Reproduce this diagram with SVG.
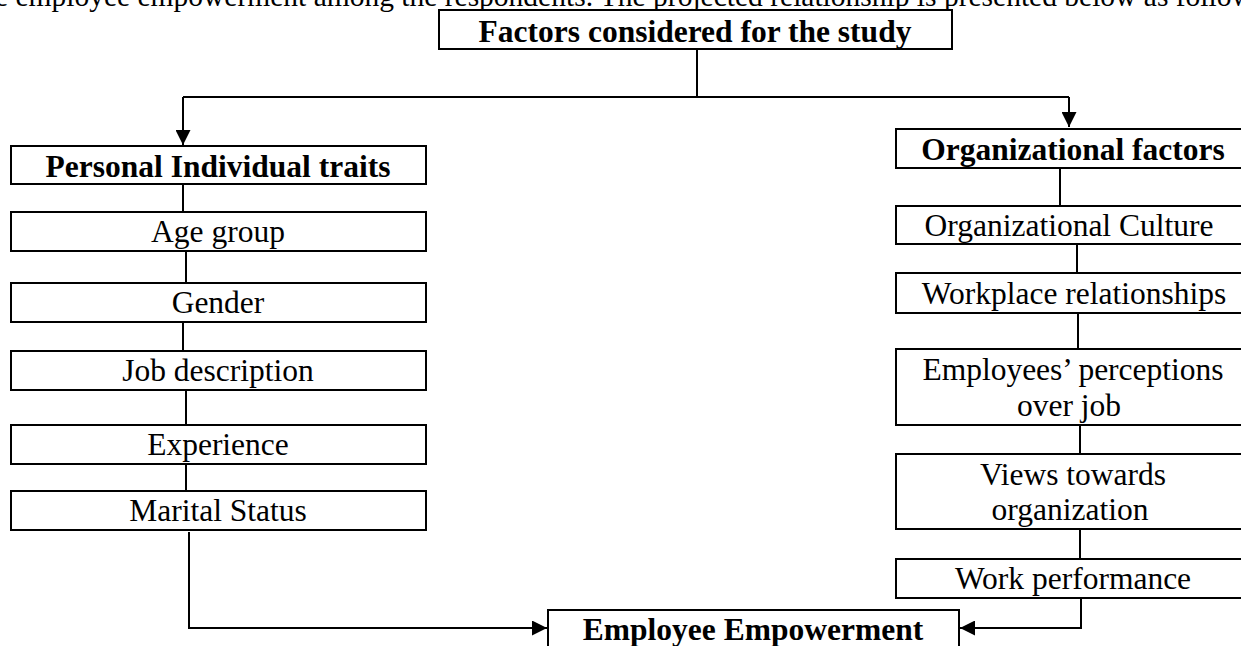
<svg xmlns="http://www.w3.org/2000/svg" width="1241" height="646" viewBox="0 0 1241 646">
<defs>
<style>
.box{fill:#fff;stroke:#000;stroke-width:2}
.t{font-family:"Liberation Serif","Times New Roman",serif;font-size:31.5px;fill:#000;text-anchor:middle}
.b{font-weight:bold}
.ln{fill:none;stroke:#000;stroke-width:2}
</style>
<marker id="ah" markerUnits="userSpaceOnUse" markerWidth="15" markerHeight="15" refX="15" refY="7.5" orient="auto">
<path d="M0,0 L15,7.5 L0,15 z" fill="#000"/>
</marker>
</defs>
<rect width="1241" height="646" fill="#fff"/>
<text x="-5" y="6" style="font-family:'Liberation Serif','Times New Roman',serif;font-size:29.5px">e employee empowerment among the respondents. The projected relationship is presented below as follows:</text>
<g id="connectors">
<polyline class="ln" points="697,49 697,97"/>
<polyline class="ln" points="183,97 1069,97"/>
<polyline class="ln" points="183,97 183,145" marker-end="url(#ah)"/>
<polyline class="ln" points="1069,97 1069,127" marker-end="url(#ah)"/>
<polyline class="ln" points="183,184 183,212"/>
<polyline class="ln" points="186,251 186,283"/>
<polyline class="ln" points="183,318 183,351"/>
<polyline class="ln" points="186,390 186,425"/>
<polyline class="ln" points="186,462 186,491"/>
<polyline class="ln" points="189,532 189,628 547,628" marker-end="url(#ah)"/>
<polyline class="ln" points="1060,168 1060,206"/>
<polyline class="ln" points="1077,244 1077,273"/>
<polyline class="ln" points="1078,313 1078,349"/>
<polyline class="ln" points="1080,425 1080,454"/>
<polyline class="ln" points="1080,529 1080,558"/>
<polyline class="ln" points="1081,598 1081,628 960,628" marker-end="url(#ah)"/>
</g>
<g id="factors"><rect class="box" x="439" y="10" width="513" height="39"/><text class="t b" x="695" y="42">Factors considered for the study</text></g>
<g id="personal"><rect class="box" x="11" y="146" width="415" height="38"/><text class="t b" x="218" y="177">Personal Individual traits</text></g>
<g id="age"><rect class="box" x="11" y="212" width="415" height="39"/><text class="t" x="218" y="242">Age group</text></g>
<g id="gender"><rect class="box" x="11" y="283" width="415" height="39"/><text class="t" x="218" y="313">Gender</text></g>
<g id="job"><rect class="box" x="11" y="351" width="415" height="39"/><text class="t" x="218" y="381">Job description</text></g>
<g id="experience"><rect class="box" x="11" y="425" width="415" height="39"/><text class="t" x="218" y="455">Experience</text></g>
<g id="marital"><rect class="box" x="11" y="491" width="415" height="39"/><text class="t" x="218" y="521">Marital Status</text></g>
<g id="org"><rect class="box" x="896" y="129" width="360" height="39"/><text class="t b" x="1073" y="160">Organizational factors</text></g>
<g id="culture"><rect class="box" x="896" y="206" width="360" height="38"/><text class="t" x="1069" y="236">Organizational Culture</text></g>
<g id="workplace"><rect class="box" x="896" y="273" width="360" height="40"/><text class="t" x="1074" y="304">Workplace relationships</text></g>
<g id="perceptions"><rect class="box" x="896" y="349" width="360" height="76"/><text class="t" x="1073" y="380">Employees’ perceptions</text><text class="t" x="1069" y="416">over job</text></g>
<g id="views"><rect class="box" x="896" y="454" width="360" height="75"/><text class="t" x="1073" y="485">Views towards</text><text class="t" x="1070" y="520">organization</text></g>
<g id="performance"><rect class="box" x="896" y="559" width="360" height="39"/><text class="t" x="1073" y="589">Work performance</text></g>
<g id="empowerment"><rect class="box" x="548" y="610" width="411" height="50"/><text class="t b" x="753" y="640">Employee Empowerment</text></g>
</svg>
